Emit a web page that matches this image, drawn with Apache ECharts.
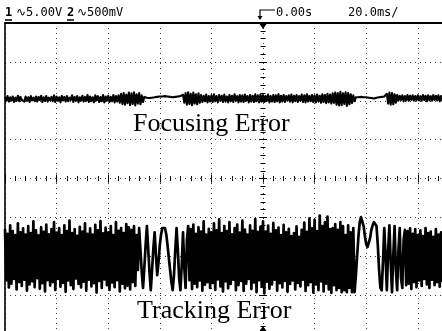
<!DOCTYPE html>
<html>
<head>
<meta charset="utf-8">
<script src="https://cdn.jsdelivr.net/npm/echarts@6/dist/echarts.min.js"></script>
<style>
  html, body { margin: 0; padding: 0; background: #fff; }
  #scope { width: 442px; height: 331px; }
</style>
</head>
<body>
<div id="scope"></div>
<script>
// time base: 20 ms/div, trigger at 0 ms, one sample every 0.5 ms starting at -100 ms
const T_START = -100;
const T_STEP = 0.5;
const TIME_MIN = -100;
const TIME_MAX = 100;
const TIME_DIV = 20;
const SCREEN_DIVS = [-4, 4];

// values in screen divisions (CH1 sits around +2 div, CH2 around -2 div)
const focusingError = [
  2.10,2.00,2.12,1.98,2.09,2.01,2.11,1.97,2.08,2.00,2.13,1.99,2.10,2.02,2.07,1.98,2.11,2.00,2.09,1.97,
  2.12,2.01,2.08,1.99,2.11,1.98,2.10,2.02,2.13,1.97,2.09,2.00,2.12,1.98,2.08,2.01,2.10,1.99,2.14,1.97,
  2.11,2.00,2.09,1.96,2.13,2.01,2.10,1.98,2.12,1.99,2.08,2.02,2.14,1.97,2.10,2.00,2.12,1.96,2.09,2.01,
  2.13,1.98,2.10,2.00,2.15,1.97,2.11,1.99,2.09,1.96,2.14,2.01,2.12,1.97,2.10,1.99,2.15,1.96,2.11,2.00,
  2.13,1.97,2.10,1.99,2.15,1.96,2.12,1.98,2.14,1.95,2.18,1.92,2.20,1.90,2.16,1.94,2.21,1.89,2.19,1.92,
  2.22,1.88,2.17,1.93,2.20,1.91,2.14,1.97,2.10,2.06,2.08,2.07,2.07,2.06,2.08,2.07,2.09,2.08,2.10,2.09,
  2.11,2.10,2.11,2.10,2.12,2.11,2.11,2.10,2.10,2.09,2.09,2.08,2.10,2.09,2.11,2.08,2.12,2.07,2.16,1.95,
  2.20,1.90,2.22,1.92,2.18,1.89,2.21,1.93,2.17,1.91,2.19,1.95,2.15,1.97,2.13,1.99,2.16,1.96,2.12,1.98,
  2.14,1.97,2.17,1.99,2.12,1.96,2.15,2.00,2.13,1.97,2.16,1.98,2.11,1.96,2.15,1.99,2.13,1.97,2.17,2.00,
  2.12,1.96,2.15,1.98,2.14,1.97,2.16,2.00,2.12,1.96,2.15,1.98,2.13,1.97,2.17,1.99,2.14,1.96,2.16,1.98,
  2.15,1.97,2.13,2.00,2.16,1.96,2.12,1.98,2.15,1.97,2.14,1.99,2.17,1.96,2.13,1.98,2.15,1.97,2.12,2.00,
  2.14,1.98,2.16,1.96,2.13,1.99,2.15,1.97,2.12,2.00,2.16,1.97,2.14,1.96,2.17,1.98,2.13,1.99,2.15,1.97,
  2.14,1.96,2.16,1.98,2.13,1.95,2.17,1.97,2.15,1.94,2.18,1.96,2.16,1.93,2.19,1.95,2.21,1.90,2.20,1.88,
  2.23,1.89,2.19,1.92,2.22,1.87,2.20,1.91,2.17,1.94,2.14,1.99,2.09,2.07,2.09,2.08,2.10,2.08,2.09,2.09,
  2.09,2.08,2.08,2.08,2.07,2.07,2.06,2.07,2.08,2.08,2.09,2.08,2.10,2.09,2.11,2.07,2.18,1.93,2.21,1.90,
  2.20,1.91,2.17,1.95,2.15,2.00,2.13,2.02,2.14,1.99,2.12,2.01,2.15,2.00,2.13,2.02,2.14,2.00,2.12,2.01,
  2.14,2.01,2.12,2.00,2.15,2.02,2.13,1.99,2.14,2.01,2.12,2.00,2.15,2.02,2.13,2.01,2.14,1.99,2.12,2.01,
  2.13
];

const trackingError = [
  -1.30,-2.62,-1.42,-2.80,-1.20,-2.70,-1.35,-2.58,-1.45,-2.85,-1.15,-2.66,-1.38,-2.76,-1.28,-2.60,-1.44,-2.88,-1.22,-2.72,
  -1.40,-2.64,-1.10,-2.79,-1.33,-2.56,-1.46,-2.83,-1.25,-2.69,-1.37,-2.90,-1.18,-2.61,-1.43,-2.75,-1.30,-2.66,-1.12,-2.86,
  -1.39,-2.58,-1.27,-2.78,-1.45,-2.68,-1.20,-2.91,-1.35,-2.62,-1.08,-2.74,-1.40,-2.84,-1.30,-2.57,-1.47,-2.71,-1.24,-2.80,
  -1.36,-2.65,-1.15,-2.88,-1.42,-2.60,-1.28,-2.77,-1.44,-2.69,-1.19,-2.93,-1.33,-2.63,-1.09,-2.81,-1.41,-2.59,-1.26,-2.74,
  -1.38,-2.86,-1.22,-2.67,-1.45,-2.79,-1.12,-2.61,-1.34,-2.90,-1.27,-2.70,-1.40,-2.82,-1.17,-2.75,-1.25,-2.85,-1.32,-2.66,
  -1.22,-2.76,-1.45,-2.35,-1.27,-1.84,-2.40,-2.81,-2.30,-1.71,-1.22,-1.79,-2.40,-2.87,-2.35,-1.79,-1.38,-1.97,-2.48,-2.15,
  -1.71,-1.43,-1.27,-1.22,-1.27,-1.43,-1.71,-2.04,-2.35,-2.66,-2.87,-2.48,-1.84,-1.27,-1.84,-2.56,-2.87,-2.22,-1.38,-2.30,
  -2.81,-1.58,-1.22,-2.61,-1.30,-2.84,-1.18,-2.70,-1.42,-2.79,-1.25,-2.62,-1.36,-2.88,-1.10,-2.73,-1.44,-2.66,-1.29,-2.81,
  -1.38,-2.68,-1.15,-2.86,-1.33,-2.59,-1.05,-2.77,-1.40,-2.90,-1.22,-2.64,-1.35,-2.82,-1.12,-2.71,-1.43,-2.60,-1.27,-2.87,
  -1.18,-2.74,-1.39,-2.63,-1.08,-2.89,-1.31,-2.70,-1.44,-2.58,-1.20,-2.84,-1.34,-2.67,-1.04,-2.92,-1.37,-2.61,-1.24,-2.78,
  -1.10,-2.95,-1.36,-2.65,-1.21,-2.83,-1.42,-2.72,-1.14,-2.60,-1.33,-2.88,-1.26,-2.69,-1.45,-2.80,-1.19,-2.63,-1.38,-2.91,
  -1.29,-2.71,-1.48,-2.62,-1.40,-2.85,-1.23,-2.68,-1.50,-2.77,-1.32,-2.60,-1.13,-2.89,-1.37,-2.74,-1.02,-2.66,-1.28,-2.93,
  -1.06,-2.72,-1.35,-2.87,-0.95,-2.64,-1.22,-2.90,-1.12,-2.70,-0.98,-2.85,-1.30,-2.94,-1.27,-2.74,-1.17,-2.87,-1.32,-2.81,
  -1.12,-2.92,-1.22,-2.87,-1.45,-2.92,-1.20,-2.81,-1.38,-2.92,-1.27,-2.92,-2.48,-1.97,-1.48,-1.12,-0.99,-1.04,-1.22,-1.48,
  -1.68,-1.76,-1.71,-1.53,-1.32,-1.20,-1.12,-1.12,-1.22,-1.71,-2.35,-2.81,-2.87,-2.15,-1.27,-1.97,-2.87,-1.84,-1.20,-2.15,
  -2.92,-1.97,-1.22,-2.35,-2.87,-1.84,-1.27,-2.56,-2.81,-1.58,-1.32,-2.74,-1.35,-2.70,-1.28,-2.84,-1.42,-2.66,-1.30,-2.79,
  -1.45,-2.62,-1.33,-2.76,-1.48,-2.58,-1.27,-2.72,-1.40,-2.81,-1.36,-2.60,-1.50,-2.74,-1.30,-2.66,-1.44,-2.78,-1.38,-2.63,
  -1.42
];

const CH1_SCALE = "\u223F5.00V";
const CH2_SCALE = "\u223F500mV";
const TRIGGER_TIME = "0.00s";
const TIME_SCALE = "20.0ms/";
const TRACE_NAMES = ["Focusing Error", "Tracking Error"];

const INK = "#000";
const DOTS = "#3a3a3a";
const MONO = "'DejaVu Sans Mono', monospace";
const SERIF = "'Liberation Serif', 'DejaVu Serif', serif";

const el = document.getElementById("scope");
const chart = echarts.init(el, null, { renderer: "canvas" });

const toPoints = (vals) => vals.map((v, i) => [T_START + i * T_STEP, v]);

function centerAxis(position, extra) {
  return Object.assign({
    type: "value",
    position,
    axisLine: { show: false, onZero: true, onZeroAxisIndex: 0 },
    axisTick: { show: true, length: 4, lineStyle: { color: INK, width: 1 } },
    minorTick: { show: true, splitNumber: 5, length: 2.5, lineStyle: { color: INK, width: 1 } },
    axisLabel: { show: false },
    splitLine: { show: false },
  }, extra);
}

const xBase = { min: TIME_MIN, max: TIME_MAX, interval: TIME_DIV };
const yBase = { min: SCREEN_DIVS[0], max: SCREEN_DIVS[1], interval: 1 };

// the screen is 10 div wide, the photo only shows the left 8.5 div of it
chart.setOption({
  animation: false,
  backgroundColor: "#fff",
  grid: { left: 5, top: 23, width: 516, height: 311.2, containLabel: false, outerBoundsMode: "none" },
  xAxis: [
    Object.assign({
      type: "value",
      position: "top",
      axisLine: { show: true, onZero: false, lineStyle: { color: INK, width: 1.8 } },
      axisTick: { show: false },
      axisLabel: { show: false },
      splitLine: { show: true, lineStyle: { color: DOTS, width: 1, type: [1, 4] } },
    }, xBase),
    centerAxis("bottom", xBase),
    centerAxis("top", xBase),
  ],
  yAxis: [
    Object.assign({
      type: "value",
      position: "left",
      axisLine: { show: true, onZero: false, lineStyle: { color: INK, width: 1.6 } },
      axisTick: { show: false },
      axisLabel: { show: false },
      splitLine: { show: true, lineStyle: { color: DOTS, width: 1, type: [1, 4] } },
    }, yBase),
    centerAxis("left", yBase),
    centerAxis("right", yBase),
  ],
  series: [
    {
      name: TRACE_NAMES[0],
      type: "line",
      xAxisIndex: 0,
      yAxisIndex: 0,
      showSymbol: false,
      silent: true,
      sampling: "none",
      lineStyle: { color: INK, width: 2.1, join: "round" },
      data: toPoints(focusingError),
    },
    {
      name: TRACE_NAMES[1],
      type: "line",
      xAxisIndex: 0,
      yAxisIndex: 0,
      showSymbol: false,
      silent: true,
      sampling: "none",
      lineStyle: { color: INK, width: 2.7, join: "round" },
      data: toPoints(trackingError),
    },
  ],
});

// readout and trigger markers, placed from the axis scale
const x0 = chart.convertToPixel({ xAxisIndex: 0 }, 0);
const yTop = chart.convertToPixel({ yAxisIndex: 0 }, SCREEN_DIVS[1]);

const mono = (text, x, weight) => ({
  type: "text", left: x, top: 7,
  style: { text, fill: INK, font: `${weight || "normal"} 12px ${MONO}` },
});

chart.setOption({
  graphic: [
    mono("1", 5, "bold"),
    { type: "line", shape: { x1: 5, y1: 20, x2: 12, y2: 20 }, style: { stroke: INK, lineWidth: 1.5 } },
    mono(CH1_SCALE, 16),
    mono("2", 67, "bold"),
    { type: "line", shape: { x1: 67, y1: 20, x2: 74, y2: 20 }, style: { stroke: INK, lineWidth: 1.5 } },
    mono(CH2_SCALE, 77),
    { type: "polyline", shape: { points: [[x0 - 3, 18], [x0 - 3, 10], [x0 + 12, 10]] }, style: { stroke: INK, lineWidth: 1.2, fill: null } },
    { type: "polygon", shape: { points: [[x0 - 5.5, 16], [x0 - 0.5, 16], [x0 - 3, 20]] }, style: { fill: INK } },
    mono(TRIGGER_TIME, x0 + 13),
    mono(TIME_SCALE, 348),
    { type: "polygon", shape: { points: [[x0 - 3.5, yTop + 1], [x0 + 3.5, yTop + 1], [x0, yTop + 6]] }, style: { fill: INK } },
    { type: "polygon", shape: { points: [[x0 - 3.5, 331], [x0 + 3.5, 331], [x0, 326]] }, style: { fill: INK } },
    {
      type: "text", left: 133, top: 111,
      style: { text: TRACE_NAMES[0], fill: INK, font: `26px ${SERIF}` },
    },
    {
      type: "text", left: 137, top: 298,
      style: { text: TRACE_NAMES[1], fill: INK, font: `26px ${SERIF}` },
    },
  ],
});
</script>
</body>
</html>
